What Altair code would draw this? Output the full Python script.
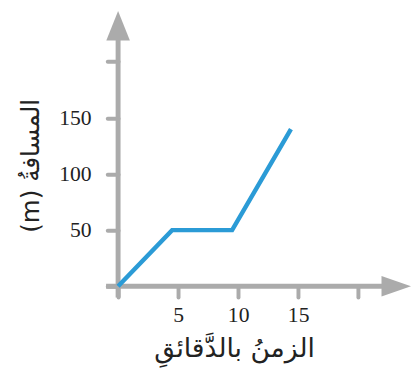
import altair as alt
import pandas as pd

# data
time_min = [0, 4.5, 9.5, 14.4]
distance_m = [0, 50, 50, 140]

x_ticks = [0, 5, 10, 15, 20]
y_ticks = [0, 50, 100, 150, 200]
x_labels = [5, 10, 15]
y_labels = [50, 100, 150]

x_title = "الزمنُ بالدَّقائقِ"
y_title = "(m) المسافةُ"

GRAY = "#ababab"
BLUE = "#2b9bd6"
TXT = "#222222"

line_df = pd.DataFrame({"t": time_min, "d": distance_m})
ylab_df = pd.DataFrame({"d": y_labels, "lab": [str(v) for v in y_labels]})

x_scale = alt.Scale(domain=[0, 24.4], nice=False, zero=False, clamp=False)
y_scale = alt.Scale(domain=[0, 245], nice=False, zero=False, clamp=False)

x_label_expr = "indexof([" + ",".join(str(v) for v in x_labels) + "], datum.value) >= 0 ? datum.label : ''"

x_axis = alt.Axis(
    values=x_ticks, labelExpr=x_label_expr,
    labelFont="Liberation Serif", labelFontSize=22, labelPadding=8,
    title=x_title, titleX=118, titleY=63, titleAlign="center", titleBaseline="middle",
)
y_axis = alt.Axis(
    values=y_ticks, labels=False,
    title=y_title, titleX=-89, titleY=157, titleAngle=270,
    titleAlign="center", titleBaseline="middle",
)

X = alt.X("t:Q", scale=x_scale, axis=x_axis)
Y = alt.Y("d:Q", scale=y_scale, axis=y_axis)

# axis lines with arrowheads (in data units)
xaxis_df = pd.DataFrame({"t": [-1.0], "t2": [22.5], "d": [0]})
yaxis_df = pd.DataFrame({"t": [0], "d": [-10.0], "d2": [226]})
xarrow_df = pd.DataFrame({"t": [23.17], "d": [0]})
yarrow_df = pd.DataFrame({"t": [0], "d": [231.9]})

x_rule = alt.Chart(xaxis_df).mark_rule(color=GRAY, strokeWidth=5).encode(x=X, x2="t2:Q", y=Y)
y_rule = alt.Chart(yaxis_df).mark_rule(color=GRAY, strokeWidth=5).encode(x=X, y=Y, y2="d2:Q")

x_arrow = alt.Chart(xarrow_df).mark_point(
    shape="M1,0L-1,-0.7L-1,0.7Z", size=900, filled=True, opacity=1, color=GRAY
).encode(x=X, y=Y)
y_arrow = alt.Chart(yarrow_df).mark_point(
    shape="M0,-1L0.8,1L-0.8,1Z", size=900, filled=True, opacity=1, color=GRAY
).encode(x=X, y=Y)

# y tick labels as text, placed by the y scale
y_text = alt.Chart(ylab_df).mark_text(
    align="right", baseline="middle", font="Liberation Serif", fontSize=22, color=TXT, dx=-27
).encode(x=alt.value(0), y=Y, text="lab:N")

line = alt.Chart(line_df).mark_line(color=BLUE, strokeWidth=4.5).encode(x=X, y=Y)

chart = alt.layer(x_rule, y_rule, x_arrow, y_arrow, y_text, line).properties(
    width=298, height=280,
    autosize=alt.AutoSizeParams(type="none"),
    padding={"left": 112, "top": 0, "right": 0, "bottom": 80},
    background="white",
).configure_view(
    stroke=None
).configure_axis(
    domain=False, grid=False,
    tickSize=11, tickWidth=4, tickColor=GRAY, tickCap="round",
    labelFont="Liberation Serif", labelFontSize=22, labelColor=TXT,
    titleFont="DejaVu Sans", titleFontWeight="normal", titleColor=TXT,
).configure_axisX(
    labelPadding=8, titleFontSize=27,
).configure_axisY(
    titleFontSize=25,
)

chart.save("out.html", embed_options={"renderer": "svg", "actions": False})
